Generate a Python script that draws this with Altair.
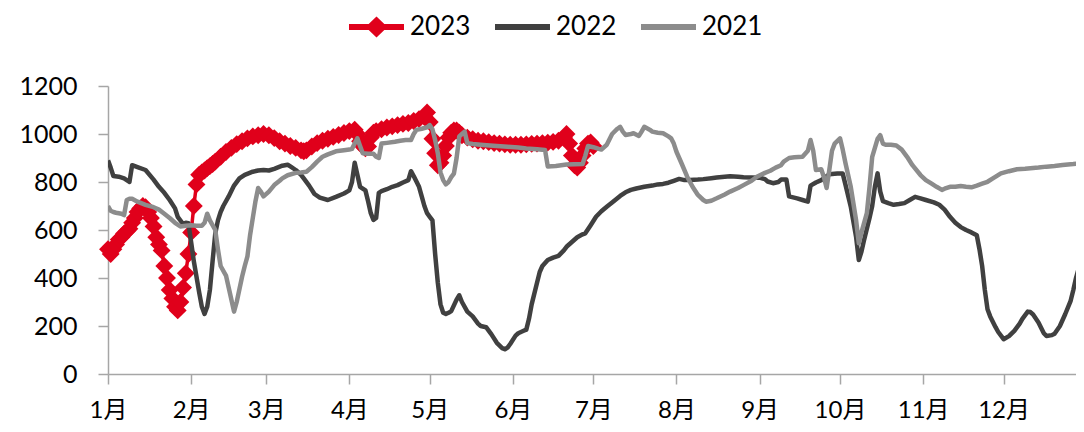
import altair as alt
import pandas as pd

# ---------------- data (day of year, value) ----------------
days_2023 = [0, 1, 2, 3, 4, 5, 6, 7, 8, 9, 10, 11, 12, 13, 14, 15, 16, 17, 18, 19, 20, 21, 22, 23, 24, 25, 26, 27, 28, 29,
             30, 31, 32, 33, 34, 35, 36, 37, 38, 39, 40, 42, 44, 46, 48, 50, 52, 54, 56, 58, 60, 62, 64, 66, 68, 70, 72, 73,
             74, 76, 78, 80, 82, 84, 86, 88, 90, 92, 93, 94, 95, 96, 97, 98, 99, 100, 102, 104, 106, 108, 110, 112, 114,
             116, 118, 119, 120, 121, 122, 123, 124, 125, 126, 127, 128, 129, 130, 131, 132, 134, 136, 138, 140, 142, 144,
             146, 148, 150, 152, 154, 156, 158, 160, 162, 164, 166, 168, 170, 171, 172, 173, 174, 175, 176, 177, 178, 179,
             180, 181]
vals_2023 = [520, 500, 520, 540, 560, 570, 585, 595, 605, 630, 650, 675, 690, 700, 695, 675, 650, 615, 570, 540, 515, 450,
             400, 350, 315, 280, 265, 300, 360, 420, 500, 590, 700, 790, 830, 840, 848, 858, 866, 875, 885, 905, 925, 942,
             958, 970, 982, 990, 995, 1000, 995, 983, 970, 960, 950, 942, 932, 928, 932, 948, 962, 972, 980, 988, 996, 1004,
             1012, 1018, 1000, 970, 950, 940, 948, 985, 1005, 1012, 1020, 1027, 1032, 1037, 1042, 1046, 1054, 1062, 1072,
             1090, 1050, 980, 920, 870, 880, 910, 950, 985, 1005, 1015, 1015, 1005, 995, 985, 978, 972, 970, 966, 962, 960,
             957, 955, 955, 955, 957, 959, 960, 962, 964, 967, 972, 985, 1000, 960, 910, 870, 860, 880, 910, 940, 960, 965,
             950]

days_2022 = [0, 1, 2, 4, 6, 8, 9, 11, 14, 17, 19, 21, 23, 25, 26, 28, 29, 30, 31, 32, 34, 35, 36, 37, 38, 39, 40, 41, 42,
             43, 45, 47, 49, 51, 54, 56, 58, 60, 62, 65, 67, 68, 70, 72, 73, 75, 77, 79, 82, 85, 88, 90, 91, 92, 93, 94, 96,
             97, 98, 99, 100, 101, 102, 104, 106, 108, 110, 112, 113, 114, 116, 117, 118, 119, 120, 121, 122, 123, 124, 125,
             126, 127, 128, 130, 131, 132, 134, 136, 138, 139, 141, 143, 145, 147, 148, 149, 150, 152, 153, 155, 156, 157,
             158, 160, 161, 162, 164, 166, 168, 170, 171, 173, 175, 177, 178, 180, 182, 184, 186, 188, 191, 193, 195, 197,
             200, 203, 205, 207, 209, 211, 213, 215, 217, 220, 222, 225, 227, 230, 232, 235, 237, 240, 243, 245, 246, 248,
             250, 251, 253, 254, 257, 259, 261, 262, 264, 266, 269, 272, 274, 275, 277, 279, 280, 281, 282, 284, 285, 286,
             287, 288, 289, 291, 293, 295, 297, 299, 301, 303, 305, 308, 310, 312, 314, 316, 318, 320, 322, 324, 325, 326,
             327, 328, 329, 331, 332, 334, 336, 338, 340, 341, 343, 344, 345, 347, 349, 350, 352, 353, 355, 357, 359, 360,
             361, 362, 364]
vals_2022 = [890, 860, 825, 822, 815, 800, 870, 862, 850, 810, 780, 755, 725, 690, 655, 625, 630, 628, 550, 470, 340, 280,
             250, 280, 350, 470, 585, 640, 675, 700, 740, 785, 815, 830, 843, 848, 850, 848, 855, 868, 872, 865, 850, 830,
             815, 785, 750, 735, 725, 738, 752, 765, 800, 880, 830, 780, 765, 720, 670, 642, 650, 755, 762, 770, 780, 787,
             798, 808, 845, 825, 780, 740, 700, 670, 655, 640, 500, 380, 290, 255, 250, 255, 262, 310, 328, 300, 260, 240,
             210, 200, 195, 165, 130, 108, 103, 110, 125, 160, 170, 180, 185, 230, 290, 380, 425, 450, 475, 485, 492, 515,
             530, 550, 570, 582, 586, 620, 655, 678, 697, 715, 742, 757, 767, 773, 780, 785, 790, 792, 797, 805, 813, 808,
             808, 810, 812, 816, 819, 822, 824, 822, 820, 819, 818, 812, 802, 795, 800, 810, 810, 740, 732, 725, 718, 785,
             798, 808, 832, 835, 835, 790, 697, 570, 475, 510, 560, 650, 700, 780, 836, 760, 720, 712, 705, 708, 712, 725,
             738, 732, 725, 715, 705, 685, 655, 630, 612, 600, 590, 578, 520, 450, 350, 270, 240, 195, 175, 145, 158, 180,
             210, 230, 260, 258, 248, 215, 170, 158, 162, 168, 200, 250, 305, 350, 400, 440, 505]

days_2021 = [0, 1, 2, 3, 5, 6, 7, 8, 9, 11, 14, 17, 19, 21, 23, 25, 27, 29, 31, 33, 35, 36, 37, 38, 40, 41, 42, 44, 45, 47,
             48, 50, 51, 52, 53, 54, 55, 56, 57, 58, 60, 62, 64, 65, 67, 70, 72, 74, 76, 78, 80, 82, 85, 88, 90, 91, 92, 93,
             94, 95, 97, 99, 100, 101, 102, 104, 107, 109, 111, 113, 114, 115, 117, 119, 120, 121, 122, 123, 124, 125, 126,
             127, 128, 129, 130, 131, 132, 133, 134, 136, 140, 145, 149, 153, 156, 160, 163, 164, 167, 169, 171, 174, 177,
             178, 179, 181, 183, 184, 186, 188, 190, 191, 192, 193, 195, 196, 198, 199, 200, 202, 203, 205, 207, 209, 210,
             211, 212, 214, 216, 218, 220, 222, 223, 225, 227, 230, 232, 235, 237, 240, 242, 245, 247, 249, 251, 252, 254,
             256, 259, 261, 262, 263, 264, 266, 267, 268, 269, 270, 271, 273, 274, 275, 277, 279, 280, 281, 283, 284, 285,
             287, 288, 289, 290, 292, 294, 296, 298, 300, 303, 305, 307, 309, 311, 312, 314, 316, 318, 320, 322, 324, 326,
             328, 330, 333, 336, 339, 342, 344, 347, 350, 353, 356, 360, 364]
vals_2021 = [700, 680, 675, 672, 668, 662, 725, 730, 730, 718, 705, 695, 685, 668, 650, 630, 615, 618, 620, 618, 618, 630,
             668, 640, 600, 520, 450, 410, 360, 260, 300, 405, 450, 490, 580, 650, 720, 775, 760, 740, 760, 787, 805, 815,
             828, 838, 840, 843, 862, 885, 905, 915, 928, 932, 935, 938, 960, 982, 950, 920, 918, 918, 905, 900, 960, 963,
             968, 972, 975, 975, 1000, 1017, 1022, 1028, 1037, 1020, 975, 920, 840, 808, 790, 800, 820, 835, 900, 990,
             1000, 1010, 962, 958, 954, 950, 947, 944, 940, 936, 933, 865, 867, 870, 873, 874, 875, 910, 950, 945, 938,
             935, 955, 1000, 1022, 1030, 1010, 996, 1000, 1003, 992, 1010, 1030, 1018, 1010, 1005, 1003, 990, 982, 960,
             926, 875, 822, 780, 746, 725, 718, 722, 732, 748, 760, 775, 787, 805, 822, 838, 847, 860, 870, 885, 900, 903,
             905, 930, 975, 930, 850, 853, 820, 775, 850, 930, 960, 982, 935, 880, 780, 640, 545, 590, 670, 780, 905, 980,
             995, 960, 955, 955, 952, 935, 905, 870, 829, 808, 794, 780, 767, 772, 780, 780, 783, 780, 778, 785, 793, 801,
             815, 836, 845, 853, 855, 857, 860, 864, 867, 871, 875, 880]

years = ["2023", "2022", "2021"]
colors = ["#e0001b", "#404040", "#8c8c8c"]
month_ticks = [0, 31, 59, 90, 120, 151, 181, 212, 243, 273, 304, 334]
month_labels = ["1月", "2月", "3月", "4月", "5月", "6月", "7月", "8月", "9月", "10月", "11月", "12月"]
y_ticks = [0, 200, 400, 600, 800, 1000, 1200]

# ---------------- tables ----------------
df23 = pd.DataFrame({"day": days_2023, "value": vals_2023, "year": "2023"})
df22 = pd.DataFrame({"day": days_2022, "value": vals_2022, "year": "2022"})
df21 = pd.DataFrame({"day": days_2021, "value": vals_2021, "year": "2021"})
df_all = pd.concat([df23, df22, df21], ignore_index=True)

FONT = "Lato, 'Noto Sans CJK SC', sans-serif"
AXIS_GRAY = "#a6a6a6"

label_expr = "[" + ",".join("'%s'" % m for m in month_labels) + "][indexof([" + \
    ",".join(str(t) for t in month_ticks) + "], datum.value)]"

x_enc = alt.X("day:Q",
              scale=alt.Scale(domain=[0, 361], nice=False, zero=False),
              axis=alt.Axis(values=month_ticks, labelExpr=label_expr, title=None, grid=False,
                            tickSize=10, labelPadding=14, labelFontSize=24, labelFont=FONT,
                            labelColor="#000000", domainColor=AXIS_GRAY, tickColor=AXIS_GRAY,
                            domainWidth=1.5, tickWidth=1.5, labelFlush=False, labelOverlap=False))
y_enc = alt.Y("value:Q",
              scale=alt.Scale(domain=[0, 1200], nice=False),
              axis=alt.Axis(values=y_ticks, format="d", title=None, grid=False, tickSize=10, labelPadding=21,
                            labelFontSize=25, labelFont=FONT, labelColor="#000000",
                            domainColor=AXIS_GRAY, tickColor=AXIS_GRAY, domainWidth=1.5, tickWidth=1.5))

line23 = alt.Chart(df23).mark_line(color=colors[0], strokeWidth=3.5, clip=True).encode(x=x_enc, y=y_enc)
pts23 = alt.Chart(df23).mark_point(shape="diamond", filled=True, size=320, color=colors[0], opacity=1).encode(x=x_enc, y=y_enc)
line22 = alt.Chart(df22).mark_line(color=colors[1], strokeWidth=4.5, strokeJoin="round", clip=True).encode(x=x_enc, y=y_enc)
line21 = alt.Chart(df21).mark_line(color=colors[2], strokeWidth=4.5, strokeJoin="round", clip=True).encode(x=x_enc, y=y_enc)

# legend symbols: nominal size 30px, paths drawn beyond the unit box to reach 55px
path_line = "M-1.833,-0.2H1.833V0.2H-1.833Z"
path_23 = "M-1.833,-0.2H1.833V0.2H-1.833Z M0,-0.7L0.73,0L0,0.7L-0.73,0Z"

legend = alt.Legend(orient="none", legendX=253.5, legendY=-74, direction="horizontal", title=None,
                    labelFontSize=26, labelFont=FONT, labelColor="#000000", symbolSize=900,
                    labelOffset=18.5, columnPadding=24, padding=0, symbolStrokeWidth=0)

legend_layer = alt.Chart(df_all).transform_filter("false").mark_point(filled=True, opacity=1).encode(
    x=x_enc, y=y_enc,
    color=alt.Color("year:N", scale=alt.Scale(domain=years, range=colors), legend=legend),
    shape=alt.Shape("year:N", scale=alt.Scale(domain=years, range=[path_23, path_line, path_line]), legend=legend),
)

chart = alt.layer(line23, pts23, line22, line21, legend_layer).properties(
    width=968, height=288,
    padding={"left": 100, "top": 78, "right": 0, "bottom": 50},
    autosize=alt.AutoSizeParams(type="none"),
    background="#ffffff",
).configure_view(stroke=None)

chart.save("out.html", embed_options={"renderer": "svg", "actions": False})
